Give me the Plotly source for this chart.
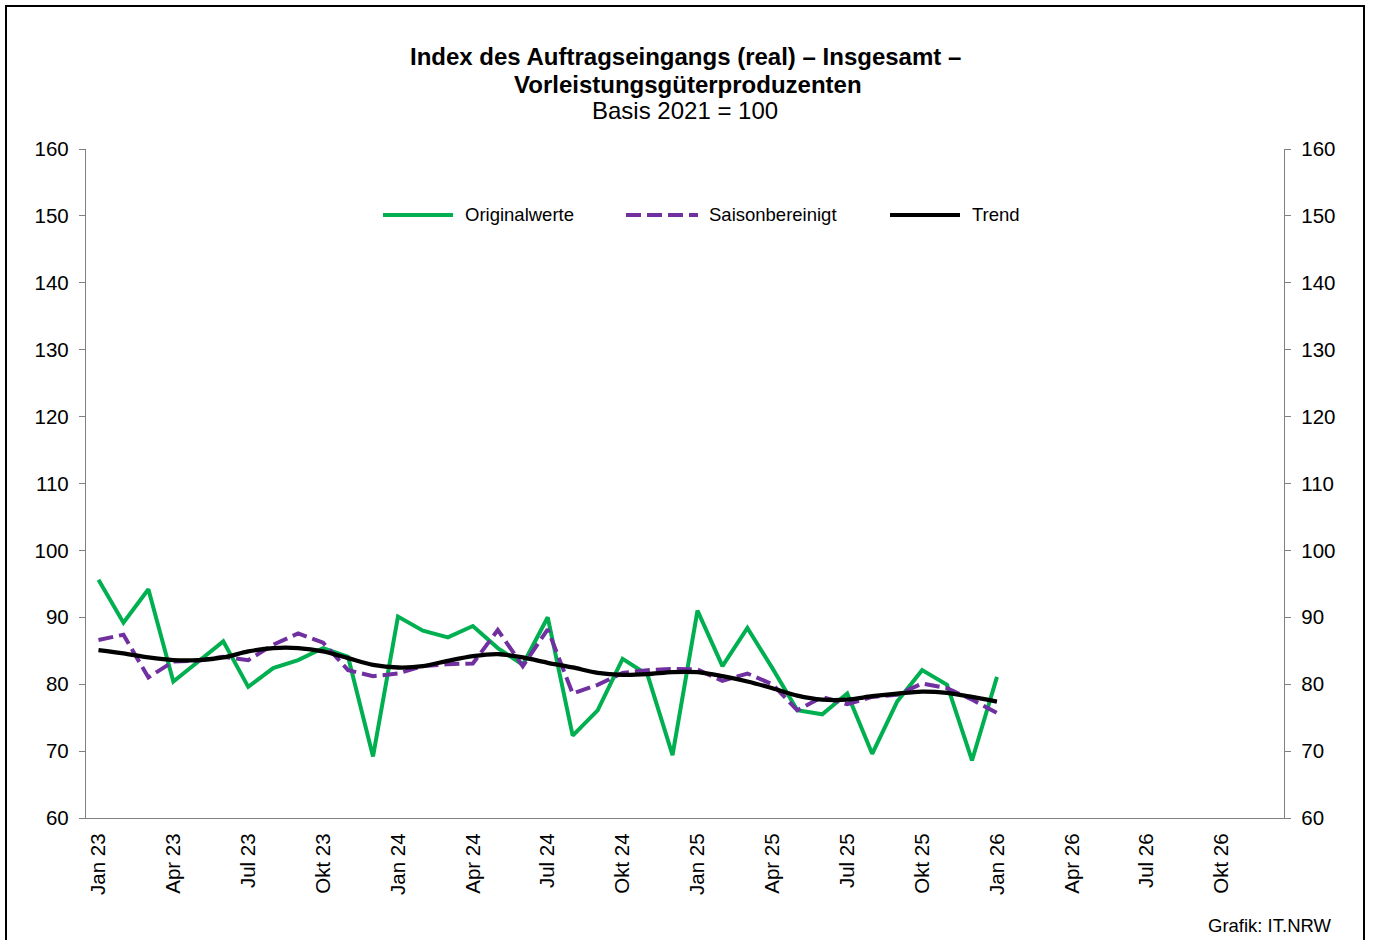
import plotly.graph_objects as go

months = ["Jan", "Feb", "Mär", "Apr", "Mai", "Jun", "Jul", "Aug", "Sep", "Okt", "Nov", "Dez"]
years = ["23", "24", "25", "26"]
categories = [f"{m} {y}" for y in years for m in months]

originalwerte = [95.6, 89.2, 94.2, 80.4, 83.4, 86.4, 79.6, 82.4, 83.6, 85.4, 84.1, 69.2,
                 90.1, 88.0, 87.0, 88.7, 85.4, 82.9, 90.0, 72.3, 76.1, 83.8, 81.4, 69.4,
                 91.0, 82.7, 88.4, 82.4, 76.1, 75.5, 78.6, 69.6, 77.4, 82.1, 79.9, 68.6,
                 81.1]
saisonbereinigt = [86.6, 87.4, 81.0, 83.4, 83.5, 84.1, 83.6, 85.9, 87.6, 86.2, 82.1, 81.2,
                   81.6, 82.7, 83.0, 83.1, 88.1, 82.7, 88.2, 78.6, 79.9, 81.7, 82.1, 82.3,
                   82.2, 80.5, 81.6, 80.0, 76.1, 78.1, 77.0, 78.1, 78.4, 80.1, 79.4, 77.7,
                   75.7]
trend = [85.1, 84.6, 84.0, 83.6, 83.6, 84.0, 84.9, 85.4, 85.4, 84.9, 83.9, 82.9,
         82.5, 82.7, 83.5, 84.2, 84.5, 84.0, 83.2, 82.5, 81.7, 81.4, 81.5, 81.8,
         81.8, 81.2, 80.4, 79.4, 78.3, 77.7, 77.7, 78.2, 78.6, 78.9, 78.7, 78.1,
         77.4]

tick_vals = categories[::3]
tick_text = list(tick_vals)

series_names = ["Originalwerte", "Saisonbereinigt", "Trend"]
colors = ["#00b050", "#7030a0", "#000000"]

FONT = "Liberation Sans, Arial, sans-serif"
DASH = "15px,6px"

fig = go.Figure()
n = len(originalwerte)
fig.add_trace(go.Scatter(x=categories[:n], y=originalwerte, mode="lines",
                         line=dict(color=colors[0], width=4), name=series_names[0]))
fig.add_trace(go.Scatter(x=categories[:n], y=saisonbereinigt, mode="lines",
                         line=dict(color=colors[1], width=4, dash=DASH), name=series_names[1]))
fig.add_trace(go.Scatter(x=categories[:n], y=trend, mode="lines",
                         line=dict(color=colors[2], width=4.3, shape="spline", smoothing=0.8),
                         name=series_names[2]))
# invisible trace to show the right axis
fig.add_trace(go.Scatter(x=categories[:1], y=[None], yaxis="y2", showlegend=False,
                         hoverinfo="skip", mode="lines"))

W, H = 1373, 940
L, R, T, B = 86, 1284, 149, 818


def px(x):
    return (x - L) / (R - L)


def py(y):
    return (B - y) / (B - T)


shapes = [
    dict(type="rect", xref="paper", yref="paper", x0=px(6), x1=px(1364), y0=py(960), y1=py(6),
         line=dict(color="black", width=2), fillcolor="rgba(0,0,0,0)", layer="below"),
]
annotations = []
# custom legend
leg_y = 215
leg_items = [(383, 453, 463), (626, 698, 707), (890, 960, 970)]
for i, (x0, x1, tx) in enumerate(leg_items):
    shapes.append(dict(type="line", xref="paper", yref="paper", x0=px(x0), x1=px(x1),
                       y0=py(leg_y), y1=py(leg_y),
                       line=dict(color=colors[i], width=4, dash=DASH if i == 1 else "solid")))
    annotations.append(dict(xref="paper", yref="paper", x=px(tx), y=py(leg_y), text=series_names[i],
                            showarrow=False, xanchor="left", yanchor="middle",
                            font=dict(family=FONT, size=18.5, color="black")))

annotations += [
    dict(xref="paper", yref="paper", x=px(685), y=py(57), text="<b>Index des Auftragseingangs (real) – Insgesamt –</b>",
         showarrow=False, xanchor="center", yanchor="middle", font=dict(family=FONT, size=24, color="black")),
    dict(xref="paper", yref="paper", x=px(688), y=py(84), text="<b>Vorleistungsgüterproduzenten</b>",
         showarrow=False, xanchor="center", yanchor="middle", font=dict(family=FONT, size=24, color="black")),
    dict(xref="paper", yref="paper", x=px(685), y=py(111), text="Basis 2021 = 100",
         showarrow=False, xanchor="center", yanchor="middle", font=dict(family=FONT, size=24, color="black")),
    dict(xref="paper", yref="paper", x=px(1334), y=py(925), text="Grafik: IT.NRW",
         showarrow=False, xanchor="right", yanchor="middle", font=dict(family=FONT, size=18.5, color="black")),
]

axis_color = "#808080"
yaxis_common = dict(range=[60, 160], dtick=10, tick0=60, showgrid=False, zeroline=False,
                    showline=True, linecolor=axis_color, linewidth=1.3,
                    ticks="outside", ticklen=6, tickcolor=axis_color, tickwidth=1.3,
                    tickfont=dict(family=FONT, size=20.5, color="black"), ticklabelstandoff=6)

fig.update_layout(
    width=W, height=H,
    margin=dict(l=L, r=W - R, t=T, b=H - B, pad=0),
    paper_bgcolor="white", plot_bgcolor="white",
    showlegend=False,
    font=dict(family=FONT, color="black"),
    xaxis=dict(type="category", categoryorder="array", categoryarray=categories,
               range=[-0.5, len(categories) - 0.5],
               tickmode="array", tickvals=tick_vals, ticktext=tick_text,
               tickangle=-90, showgrid=False, zeroline=False,
               showline=True, linecolor=axis_color, linewidth=1.3,
               ticks="outside", ticklen=6, tickcolor="rgba(0,0,0,0)",
               tickfont=dict(family=FONT, size=20.5, color="black"), ticklabelstandoff=0),
    yaxis=yaxis_common,
    yaxis2=dict(**yaxis_common, overlaying="y", side="right", anchor="x"),
    shapes=shapes,
    annotations=annotations,
)

fig.write_html("out.html", config={"displayModeBar": False},
               post_script="document.body.style.margin='0';document.body.style.overflow='hidden';")
